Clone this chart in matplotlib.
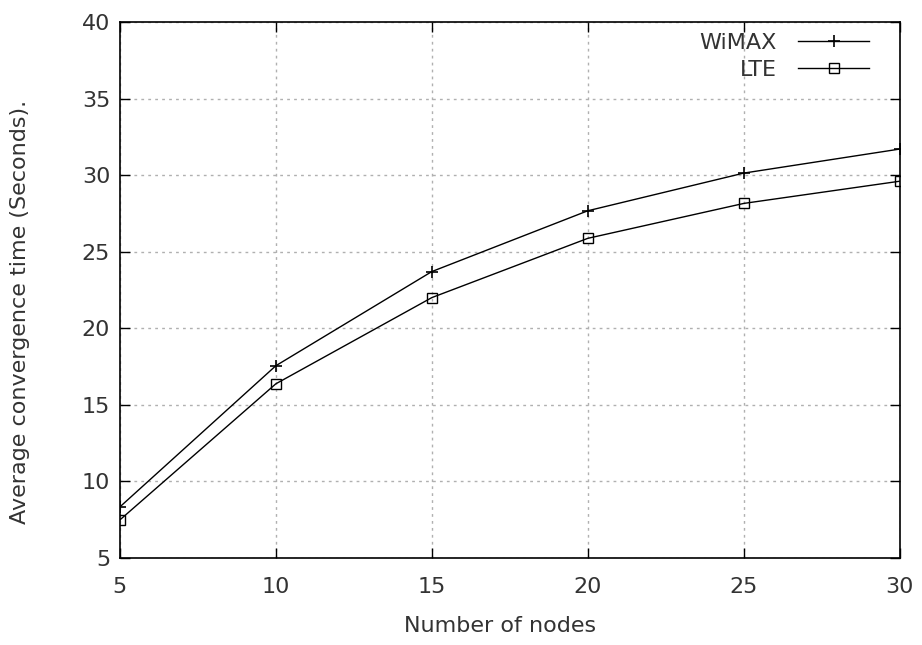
import numpy as np
import matplotlib.pyplot as plt

# data
nodes = [5, 10, 15, 20, 25, 30]
wimax = [8.33, 17.55, 23.7, 27.67, 30.13, 31.7]
lte = [7.48, 16.37, 22.0, 25.87, 28.15, 29.6]

x_ticks = [5, 10, 15, 20, 25, 30]
y_ticks = [5, 10, 15, 20, 25, 30, 35, 40]

txt = '#333333'
fig = plt.figure(figsize=(9.22, 6.45), dpi=100)
ax = fig.add_axes([0.130, 0.135, 0.846, 0.831])

ax.plot(nodes, wimax, color='black', lw=1.0, marker='+', ms=8, mew=1.2, label='WiMAX')
ax.plot(nodes, lte, color='black', lw=1.0, marker='s', ms=7, mfc='none', mew=1.0, label='LTE')

ax.set_xlim(5, 30)
ax.set_ylim(5, 40)
ax.set_xticks(x_ticks)
ax.set_yticks(y_ticks)
ax.grid(True, color='#b0b0b0', linestyle=(0, (2, 3)), lw=1.0)
ax.tick_params(direction='in', top=True, right=True, length=7, width=1.0,
               labelsize=16, labelcolor=txt)
ax.tick_params(axis='x', pad=14)
ax.tick_params(axis='y', pad=7)
for s in ax.spines.values():
    s.set_linewidth(1.2)

ax.set_xlabel('Number of nodes', fontsize=16, color=txt)
ax.set_ylabel('Average convergence time (Seconds).', fontsize=16, color=txt)
# gnuplot-like label placement
ax.xaxis.set_label_coords(0.488, -0.109)
ax.yaxis.set_label_coords(-0.115, 0.459)

leg = ax.legend(loc='upper right', frameon=False, fontsize=16, markerfirst=False,
                handlelength=3.2, handletextpad=0.95, labelspacing=0.3,
                borderaxespad=0.1, bbox_to_anchor=(0.975, 1.0))
for t in leg.get_texts():
    t.set_color(txt)
    t.set_ha('right')

fig.savefig('out.png', dpi=100)
